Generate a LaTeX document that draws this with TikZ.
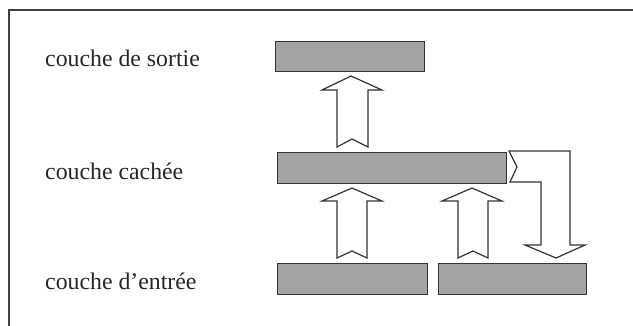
\documentclass[tikz,border=0pt]{standalone}
\usepackage{fontspec}
\setmainfont{Liberation Serif}
\begin{document}
\begin{tikzpicture}[x=1pt,y=-1pt,
  bar/.style={draw=black!80,line width=1.4pt,fill=black!36,inner sep=0pt,anchor=north west},
  blockarrow/.style={draw=black!80,line width=1.2pt,fill=white,line join=miter},
  lbl/.style={anchor=base west,inner sep=0pt,text=black!85,font=\fontsize{23.8}{28}\selectfont},
  frameline/.style={draw=black!75,line width=1.6pt}]
\useasboundingbox (0,0) rectangle (633,326);
\draw[frameline] (9,326) -- (9,10) -- (633,10);
% labels
\node[lbl] (ls) at (45,67) {couche de sortie};
\node[lbl] (lc) at (45,180) {couche cachée};
\node[lbl] (le) at (45,290) {couche d’entrée};
% bars
\node[bar,minimum width=149pt,minimum height=30pt] (out) at (275,41) {};
\node[bar,minimum width=229pt,minimum height=31pt] (hid) at (277,152) {};
\node[bar,minimum width=150pt,minimum height=31pt] (in1) at (277,263) {};
\node[bar,minimum width=148pt,minimum height=31pt] (in2) at (438,263) {};
% arrows
\draw[blockarrow] (351,76) -- (382,90) -- (368,90) -- (368,147) -- (352,139) -- (337,147) -- (337,90) -- (322,90) -- cycle;
\draw[blockarrow] (352,188) -- (382,201) -- (367,201) -- (367,258) -- (352,251) -- (337,258) -- (337,201) -- (322,201) -- cycle;
\draw[blockarrow] (472,188) -- (502,201) -- (488,201) -- (488,258) -- (473,251) -- (458,258) -- (458,201) -- (442,201) -- cycle;
\draw[blockarrow] (509,151) -- (570,151) -- (570,245) -- (585,245) -- (556,258) -- (525,245) -- (541,245) -- (541,182) -- (510,182) -- (517,167) -- cycle;
\end{tikzpicture}
\end{document}
